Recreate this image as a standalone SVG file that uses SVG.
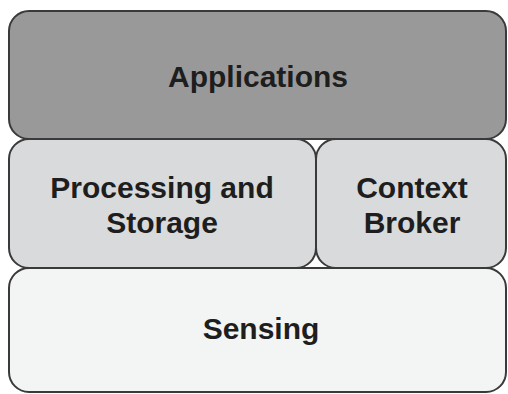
<svg xmlns="http://www.w3.org/2000/svg" width="508" height="394" viewBox="0 0 508 394">
<style>
.box{stroke:#3a3a3a;stroke-width:2}
.t{font-family:"Liberation Sans",Arial,sans-serif;font-weight:bold;font-size:30px;fill:#1e1e1e;text-anchor:middle}
</style>
<rect width="508" height="394" fill="#ffffff"/>
<g id="sensing">
<rect class="box" x="9" y="268" width="497" height="124" rx="20" fill="#f3f4f4"/>
<text class="t" x="261" y="339">Sensing</text>
</g>
<g id="processing">
<rect class="box" x="9" y="139" width="307" height="129" rx="20" fill="#d9dadc"/>
<text class="t" x="162" y="198">Processing and</text>
<text class="t" x="162" y="233">Storage</text>
</g>
<g id="broker">
<rect class="box" x="316" y="139" width="190" height="129" rx="20" fill="#d9dadc"/>
<text class="t" x="412" y="198">Context</text>
<text class="t" x="412" y="233">Broker</text>
</g>
<g id="applications">
<rect class="box" x="9" y="11" width="497" height="128" rx="20" fill="#9a9999"/>
<text class="t" x="258" y="87">Applications</text>
</g>
<g id="connectors"></g>
</svg>
